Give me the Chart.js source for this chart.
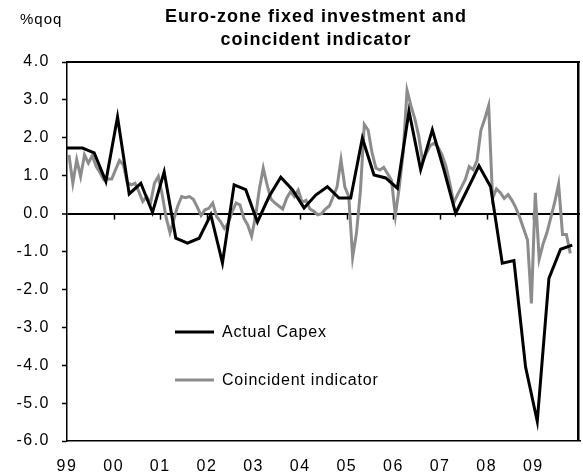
<!DOCTYPE html>
<html lang="en">
<head>
    <meta charset="UTF-8">
    <title>Euro-zone fixed investment and coincident indicator</title>
    <script src="https://cdn.jsdelivr.net/npm/chart.js"></script>
    <style>
        * { margin: 0; padding: 0; box-sizing: border-box; }
        body { background: #fff; font-family: Arial, "Liberation Sans", sans-serif; }
        .chart-box { width: 583px; height: 476px; position: relative; }
    </style>
</head>
<body>
    <div class="chart-box">
        <canvas id="chartCanvas"></canvas>
    </div>

    <script>
        // x axis: months since Jan 1999, one label per year
        const yearLabels = ['99', '00', '01', '02', '03', '04', '05', '06', '07', '08', '09'];

        // Actual Capex, % q/q, quarterly from 1998 Q4 to 2009 Q4
        const capexValues = [
            1.73,
            1.73, 1.73, 1.6, 0.85,
            2.55, 0.52, 0.80, 0.03,
            1.1, -0.65, -0.78, -0.65,
            -0.03, -1.3, 0.76, 0.63,
            -0.22, 0.45, 0.96, 0.63,
            0.15, 0.49, 0.71, 0.41,
            0.41, 1.99, 1.02, 0.94,
            0.67, 2.70, 1.16, 2.21,
            1.15, 0.01, 0.63, 1.26,
            0.71, -1.31, -1.24, -4.05,
            -5.48, -1.71, -0.94, -0.83
        ];

        // Coincident indicator, monthly from Jan 1999
        const indicatorValues = [
            1.55, 0.8, 1.42, 0.98, 1.55, 1.33, 1.53, 1.25, 1.08, 0.89, 0.91, 0.91,
            1.16, 1.40, 1.29, 0.82, 0.76, 0.80, 0.58, 0.32, 0.45, 0.28, 0.8, 0.98,
            0.5, -0.1, -0.5, -0.15, 0.2, 0.45, 0.42, 0.45, 0.38, 0.18, -0.05, 0.1,
            0.14, 0.28, -0.08, -0.21, -0.39, -0.25, 0.05, 0.28, 0.23, -0.12, -0.3, -0.6,
            -0.08, 0.65, 1.2, 0.75, 0.38, 0.28, 0.2, 0.12, 0.4, 0.58, 0.45, 0.62,
            0.3, 0.35, 0.12, 0.06, -0.03, 0.0, 0.12, 0.2, 0.45, 0.71, 1.42, 0.7,
            0.45, -1.15, -0.5, 0.6, 2.35, 2.2, 1.6, 1.2, 1.15, 1.22, 1.05, 0.88,
            -0.05, 0.7, 1.6, 3.25, 2.85, 2.5, 2.05, 1.38, 1.6, 1.8, 1.86, 1.75,
            1.55, 1.25, 0.8, 0.28, 0.5, 0.7, 0.9, 1.24, 1.16, 1.4, 2.2, 2.5,
            2.85, 0.4, 0.65, 0.55, 0.4, 0.5, 0.35, 0.15, -0.1, -0.4, -0.7, -2.37,
            0.55, -1.2, -0.8, -0.5, -0.1, 0.3, 0.78, -0.55, -0.55, -1.05
        ];

        const seriesNames = ['Actual Capex', 'Coincident indicator'];
        const seriesColors = ['#000000', '#8c8c8c'];
        const titleLines = ['Euro-zone fixed investment and', 'coincident indicator'];
        const unitLabel = '%qoq';

        // quarter points sit on the middle month, first one is 1998 Q4
        const capexPoints = capexValues.map((v, i) => ({ x: 3 * (i - 1) + 1, y: v }));
        const indicatorPoints = indicatorValues.map((v, i) => ({ x: i + 0.5, y: v }));

        // year ticks on the zero line, frame, title, unit and legend
        const extrasPlugin = {
            id: 'extras',
            beforeDraw(chart) {
                // axis labels in the original are drawn a little wide
                chart.ctx.letterSpacing = '1.5px';
            },
            beforeDatasetsDraw(chart) {
                const ctx = chart.ctx;
                const xs = chart.scales.x, ys = chart.scales.y;
                const y0 = ys.getPixelForValue(0);
                ctx.save();
                ctx.strokeStyle = '#000';
                ctx.lineWidth = 1.5;
                for (let i = 1; i < yearLabels.length; i++) {
                    const px = Math.round(xs.getPixelForValue(i * 12)) + 0.5;
                    ctx.beginPath();
                    ctx.moveTo(px, y0);
                    ctx.lineTo(px, y0 + 6);
                    ctx.stroke();
                }
                ctx.restore();
            },
            afterDraw(chart) {
                const ctx = chart.ctx;
                const area = chart.chartArea;
                ctx.save();
                // frame: top and right edges
                const right = Math.round(area.right);
                const top = Math.round(area.top);
                const bottom = Math.round(area.bottom);
                ctx.fillStyle = '#000';
                ctx.fillRect(area.left, top - 1, right - area.left, 2);
                ctx.fillRect(right - 3, top - 1, 2.5, bottom - top + 1);

                // title
                ctx.fillStyle = '#000';
                ctx.textAlign = 'center';
                ctx.textBaseline = 'middle';
                ctx.font = 'bold 18px Arial, "Liberation Sans", sans-serif';
                ctx.letterSpacing = '1px';
                ctx.fillText(titleLines[0], 316, 17);
                ctx.fillText(titleLines[1], 316, 40);

                ctx.font = '15px Arial, "Liberation Sans", sans-serif';
                ctx.letterSpacing = '1px';
                ctx.textAlign = 'left';
                ctx.fillText(unitLabel, 20, 20);

                // legend
                const legendY = [332, 380];
                ctx.font = '16px Arial, "Liberation Sans", sans-serif';
                ctx.letterSpacing = '0.8px';
                seriesNames.forEach((name, i) => {
                    ctx.strokeStyle = seriesColors[i];
                    ctx.lineWidth = 3;
                    ctx.beginPath();
                    ctx.moveTo(175, legendY[i]);
                    ctx.lineTo(214, legendY[i]);
                    ctx.stroke();
                    ctx.fillStyle = '#000';
                    ctx.fillText(name, 222, legendY[i] + 1);
                });
                ctx.restore();
                ctx.letterSpacing = '0px';
            }
        };

        const ctx = document.getElementById('chartCanvas').getContext('2d');
        const chart = new Chart(ctx, {
            type: 'line',
            data: {
                datasets: [{
                    label: seriesNames[0],
                    data: capexPoints,
                    borderColor: seriesColors[0],
                    borderWidth: 3,
                    pointRadius: 0,
                    tension: 0,
                    fill: false,
                    order: 1
                }, {
                    label: seriesNames[1],
                    data: indicatorPoints,
                    borderColor: seriesColors[1],
                    borderWidth: 3,
                    pointRadius: 0,
                    tension: 0,
                    fill: false,
                    order: 2
                }]
            },
            options: {
                responsive: true,
                maintainAspectRatio: false,
                animation: false,
                layout: { padding: { top: 62, right: 3, left: 0, bottom: 0 } },
                plugins: {
                    legend: { display: false },
                    title: { display: false },
                    tooltip: { enabled: false }
                },
                scales: {
                    x: {
                        type: 'linear',
                        min: 0,
                        max: 132,
                        grid: { display: false },
                        border: { display: true, color: '#000', width: 1.5 },
                        ticks: {
                            stepSize: 12,
                            autoSkip: false,
                            maxRotation: 0,
                            padding: 8,
                            color: '#000',
                            font: { family: 'Arial, "Liberation Sans", sans-serif', size: 16 },
                            callback: (v) => yearLabels[v / 12] ?? ''
                        },
                        afterFit: (scale) => {
                            scale.height = 35;
                            scale.paddingLeft = 0;
                            scale.paddingRight = 0;
                        }
                    },
                    y: {
                        min: -6,
                        max: 4,
                        grid: {
                            drawOnChartArea: true,
                            color: (c) => c.tick && c.tick.value === 0 ? '#000' : 'rgba(0,0,0,0)',
                            lineWidth: (c) => c.tick && c.tick.value === 0 ? 2 : 1,
                            tickColor: '#000',
                            tickWidth: 1.5,
                            tickLength: 5
                        },
                        border: { display: true, color: '#000', width: 1.5 },
                        ticks: {
                            stepSize: 1,
                            padding: 12,
                            color: '#000',
                            font: { family: 'Arial, "Liberation Sans", sans-serif', size: 16 },
                            callback: (v) => v.toFixed(1)
                        },
                        afterFit: (scale) => {
                            scale.width = 67;
                            scale.paddingTop = 0;
                            scale.paddingBottom = 0;
                        }
                    }
                }
            },
            plugins: [extrasPlugin]
        });
    </script>
</body>
</html>
